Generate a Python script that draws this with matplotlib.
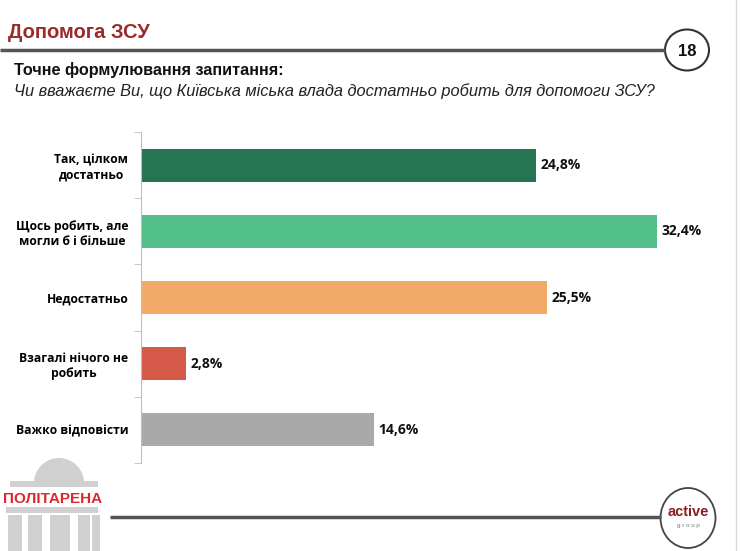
import matplotlib
matplotlib.use("Agg")
import matplotlib.pyplot as plt
from matplotlib.patches import Ellipse, Rectangle, Wedge

# --- data ---
categories = ["Так, цілком\nдостатньо", "Щось робить, але\nмогли б і більше",
              "Недостатньо", "Взагалі нічого не\nробить", "Важко відповісти"]
values = [24.8, 32.4, 25.5, 2.8, 14.6]
colors = ["#267552", "#52BF88", "#F2AA68", "#D55A4A", "#A9A9A9"]

title = "Допомога ЗСУ"
subtitle = "Точне формулювання запитання:"
question = "Чи вважаєте Ви, що Київська міська влада достатньо робить для допомоги ЗСУ?"
page_no = "18"

W, H = 740, 551
fig = plt.figure(figsize=(W / 100, H / 100), dpi=100)
fig.patch.set_facecolor("white")

# background layer in pixel coordinates
bg = fig.add_axes([0, 0, 1, 1])
bg.set_xlim(0, W)
bg.set_ylim(H, 0)
bg.axis("off")

narrow = ["Liberation Sans Narrow", "Liberation Sans", "DejaVu Sans"]
body = ["Open Sans", "DejaVu Sans"]

bg.text(8, 33, title, color="#9B2A2A", fontsize=14.5, fontweight="bold",
        family=narrow, va="center", ha="left")
bg.plot([0, 665], [50, 50], color="#555555", lw=2.5, solid_capstyle="butt")
bg.add_patch(Ellipse((687, 50), 44, 41, fill=False, ec="#333333", lw=1.5))
bg.text(687, 51, page_no, fontsize=12, fontweight="bold", family=narrow,
        ha="center", va="center", color="#111111")
bg.text(14, 70, subtitle, fontsize=11.7, fontweight="bold", family=narrow,
        va="center", ha="left", color="#111111")
bg.text(14, 91, question, fontsize=11.8, style="italic", family=narrow,
        va="center", ha="left", color="#222222")

# right page border
bg.plot([736, 736], [0, H], color="#D9D9D9", lw=1)

# bottom line and active group circle
bg.plot([110, 661], [517, 517], color="#555555", lw=2.5, solid_capstyle="butt")
bg.add_patch(Ellipse((688, 518), 55, 60, fill=False, ec="#444444", lw=1.3))
bg.text(688, 512, "active", fontsize=10.5, fontweight="bold", family=narrow,
        ha="center", va="center", color="#8B1E1E")
bg.text(688, 525, "g r o u p", fontsize=4.5, family=narrow,
        ha="center", va="center", color="#777777")

# Politarena logo (simplified)
logo_gray = "#D0D0D0"
bg.add_patch(Wedge((59, 483), 25, 180, 360, fc=logo_gray, ec="none"))
bg.add_patch(Rectangle((10, 481), 88, 6, fc=logo_gray, ec="none"))
bg.add_patch(Rectangle((6, 507), 92, 6, fc=logo_gray, ec="none"))
for x0, w in [(8, 14), (28, 14), (50, 20), (78, 12), (92, 8)]:
    bg.add_patch(Rectangle((x0, 515), w, 40, fc=logo_gray, ec="none"))
bg.text(3, 499, "ПОЛІТАРЕНА", fontsize=11, fontweight="bold", family=narrow,
        ha="left", va="center", color="#E0262C")

# --- bar chart ---
x_left, x_right = 141, 700
y_top, y_bot = 132, 463
ax = fig.add_axes([x_left / W, 1 - y_bot / H, (x_right - x_left) / W, (y_bot - y_top) / H])
ax.set_facecolor("none")
pos = list(range(len(categories)))
ax.barh(pos, values, height=0.5, color=colors)
ax.set_xlim(0, (x_right - x_left) / 15.93)
ax.set_ylim(len(categories) - 0.5, -0.5)

for p, v in zip(pos, values):
    ax.text(v + 0.3, p, f"{v:.1f}%".replace(".", ","), va="center", ha="left",
            fontsize=10, fontweight="bold", family=body, color="#111111")

ax.set_yticks(pos)
ax.set_yticklabels(categories, fontsize=8.7, fontweight="bold", family=body,
                   multialignment="center")
ax.tick_params(axis="y", which="major", length=0, pad=9)
ax.set_yticks([p - 0.5 for p in pos] + [len(pos) - 0.5], minor=True)
ax.tick_params(axis="y", which="minor", length=5, color="#BFBFBF", direction="out")
ax.set_xticks([])
for side in ["top", "right", "bottom"]:
    ax.spines[side].set_visible(False)
ax.spines["left"].set_color("#BFBFBF")

fig.savefig("out.png", dpi=100, facecolor="white")
